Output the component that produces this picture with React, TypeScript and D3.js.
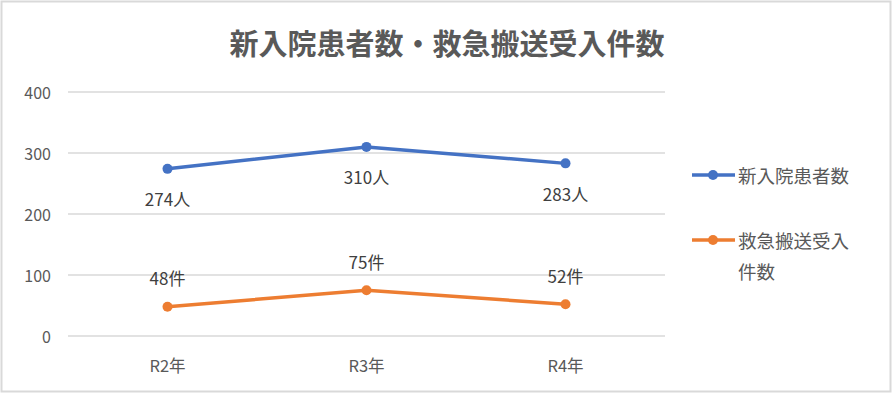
import React from "react";
import * as d3 from "d3";

const title = "新入院患者数・救急搬送受入件数";
const categories = ["R2年", "R3年", "R4年"];
const patients = [274, 310, 283];
const emergencies = [48, 75, 52];
const yTicks = [0, 100, 200, 300, 400];
const seriesNames = ["新入院患者数", "救急搬送受入件数"];
const legendLines = [["新入院患者数"], ["救急搬送受入", "件数"]];
const units = ["人", "件"];
const colors = ["#4472C4", "#ED7D31"];

const W = 893;
const H = 395;
const FONT = "'Noto Sans CJK JP', 'Noto Sans', sans-serif";

export default function App() {
  const x = d3.scaleBand<string>().domain(categories).range([68, 665]);
  const y = d3.scaleLinear().domain([0, 400]).range([336, 92]);
  const cx = (c: string) => (x(c) as number) + x.bandwidth() / 2;
  const line = d3
    .line<number>()
    .x((_, i) => cx(categories[i]))
    .y((v) => y(v));
  const series = [patients, emergencies];
  const labelOffsets = [30, -29];
  const legendY = [175, 240];

  return (
    <div style={{ position: "fixed", left: 0, top: 0 }}>
      <svg width={W} height={H} style={{ display: "block", fontFamily: FONT }}>
        <rect x={0} y={0} width={W} height={H} fill="#fff" />
        <rect x={1.5} y={1.5} width={889} height={390} fill="none" stroke="#d9d9d9" strokeWidth={2} />
        <text x={447} y={42} textAnchor="middle" dominantBaseline="central" fontSize={29} fontWeight="bold" fill="#595959">
          {title}
        </text>
        {yTicks.map((t) => (
          <g key={t}>
            <line x1={68} x2={665} y1={y(t)} y2={y(t)} stroke="#d9d9d9" strokeWidth={1.5} />
            <text x={51} y={y(t)} textAnchor="end" dominantBaseline="central" fontSize={16} fill="#595959">
              {t}
            </text>
          </g>
        ))}
        {categories.map((c) => (
          <text key={c} x={cx(c)} y={365} textAnchor="middle" dominantBaseline="central" fontSize={16.5} fill="#595959">
            {c}
          </text>
        ))}
        {series.map((s, si) => (
          <g key={si}>
            <path d={line(s) || ""} fill="none" stroke={colors[si]} strokeWidth={3.5} strokeLinejoin="round" />
            {s.map((v, i) => (
              <circle key={i} cx={cx(categories[i])} cy={y(v)} r={5} fill={colors[si]} />
            ))}
            {s.map((v, i) => (
              <text
                key={"l" + i}
                x={cx(categories[i])}
                y={y(v) + labelOffsets[si]}
                textAnchor="middle"
                dominantBaseline="central"
                fontSize={17}
                fill="#404040"
              >
                {v + units[si]}
              </text>
            ))}
          </g>
        ))}
        {seriesNames.map((n, si) => (
          <g key={n}>
            <line x1={692} x2={735} y1={legendY[si]} y2={legendY[si]} stroke={colors[si]} strokeWidth={3.5} />
            <circle cx={713} cy={legendY[si]} r={5} fill={colors[si]} />
            {legendLines[si].map((t, li) => (
              <text
                key={t}
                x={738}
                y={legendY[si] + li * 31}
                dominantBaseline="central"
                fontSize={18.5}
                fill="#595959"
              >
                {t}
              </text>
            ))}
          </g>
        ))}
      </svg>
    </div>
  );
}
